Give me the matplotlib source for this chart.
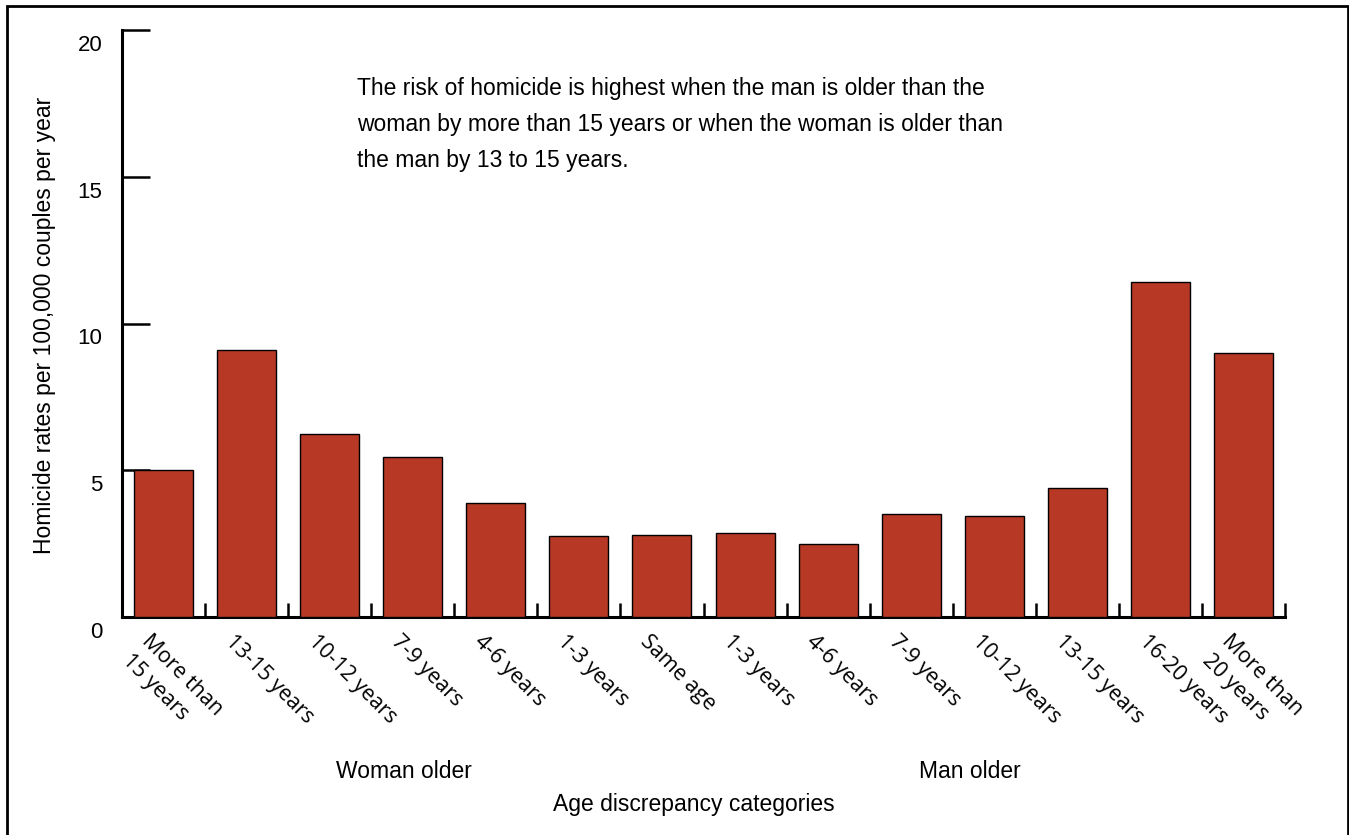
import matplotlib
matplotlib.use('Agg')
import matplotlib.pyplot as plt
import numpy as np
from matplotlib.transforms import ScaledTranslation
from matplotlib.patches import Rectangle

plt.rcParams['font.family'] = ['Liberation Sans', 'DejaVu Sans']

categories = ['More than\n15 years', '13-15 years', '10-12 years', '7-9 years',
              '4-6 years', '1-3 years', 'Same age', '1-3 years', '4-6 years',
              '7-9 years', '10-12 years', '13-15 years', '16-20 years',
              'More than\n20 years']
rates = [5.0, 9.1, 6.25, 5.45, 3.9, 2.75, 2.8, 2.85, 2.5, 3.5, 3.45, 4.4, 11.4, 9.0]
yticks = [0, 5, 10, 15, 20]
group_labels = ['Woman older', 'Man older']
note = ("The risk of homicide is highest when the man is older than the\n"
        "woman by more than 15 years or when the woman is older than\n"
        "the man by 13 to 15 years.")

W, H = 1349, 835
fig = plt.figure(figsize=(W / 100, H / 100), dpi=100)
ax = fig.add_axes([122 / W, 1 - 617 / H, (1285 - 122) / W, (617 - 30) / H])

x = np.arange(len(categories))
ax.bar(x, rates, width=0.71, color='#b83826', edgecolor='black', linewidth=1.0, zorder=3)

ax.set_xlim(-0.5, len(categories) - 0.5)
ax.set_ylim(0, 20)

for s in ['top', 'right']:
    ax.spines[s].set_visible(False)
for s in ['left', 'bottom']:
    ax.spines[s].set_linewidth(2.2)

# y ticks point inward, labels sit a bit below each tick
ax.set_yticks(yticks)
ax.set_yticklabels([str(v) for v in yticks], fontsize=16)
ax.tick_params(axis='y', direction='in', length=20, width=1.8, pad=14)
for lab in ax.get_yticklabels():
    lab.set_transform(lab.get_transform() + ScaledTranslation(0, -0.13, fig.dpi_scale_trans))

# x: boundary ticks inward, labels at centres
ax.set_xticks(np.arange(len(categories)) + 0.5)
ax.set_xticklabels([])
ax.tick_params(axis='x', which='major', direction='in', length=10, width=1.8)
ax.set_xticks(x, minor=True)
ax.set_xticklabels(categories, minor=True, rotation=-45, ha='left', va='top',
                   rotation_mode='anchor', fontsize=15.5, family=['Open Sans', 'DejaVu Sans'],
                   multialignment='left', linespacing=1.4)
ax.tick_params(axis='x', which='minor', length=0, pad=10)
for lab in ax.get_xticklabels(minor=True):
    lab.set_transform(lab.get_transform() + ScaledTranslation(-0.11, 0, fig.dpi_scale_trans))

fig.text(357 / W, 1 - 77 / H, note, fontsize=16.5, ha='left', va='top', linespacing=1.72)

fig.text(45 / W, 1 - 325 / H, 'Homicide rates per 100,000 couples per year',
         rotation=90, ha='center', va='center', fontsize=16.5)
fig.text(404 / W, 1 - 771 / H, group_labels[0], ha='center', va='center', fontsize=16.5)
fig.text(970 / W, 1 - 771 / H, group_labels[1], ha='center', va='center', fontsize=16.5)
fig.text(694 / W, 1 - 804 / H, 'Age discrepancy categories', ha='center', va='center', fontsize=16.5)

# frame around the whole picture
fig.patches.append(Rectangle((7 / W, -0.05), (1348 - 7) / W, 1.05 - 6 / H,
                             transform=fig.transFigure, fill=False,
                             edgecolor='black', linewidth=2.0))

fig.savefig('out.png', dpi=100)
